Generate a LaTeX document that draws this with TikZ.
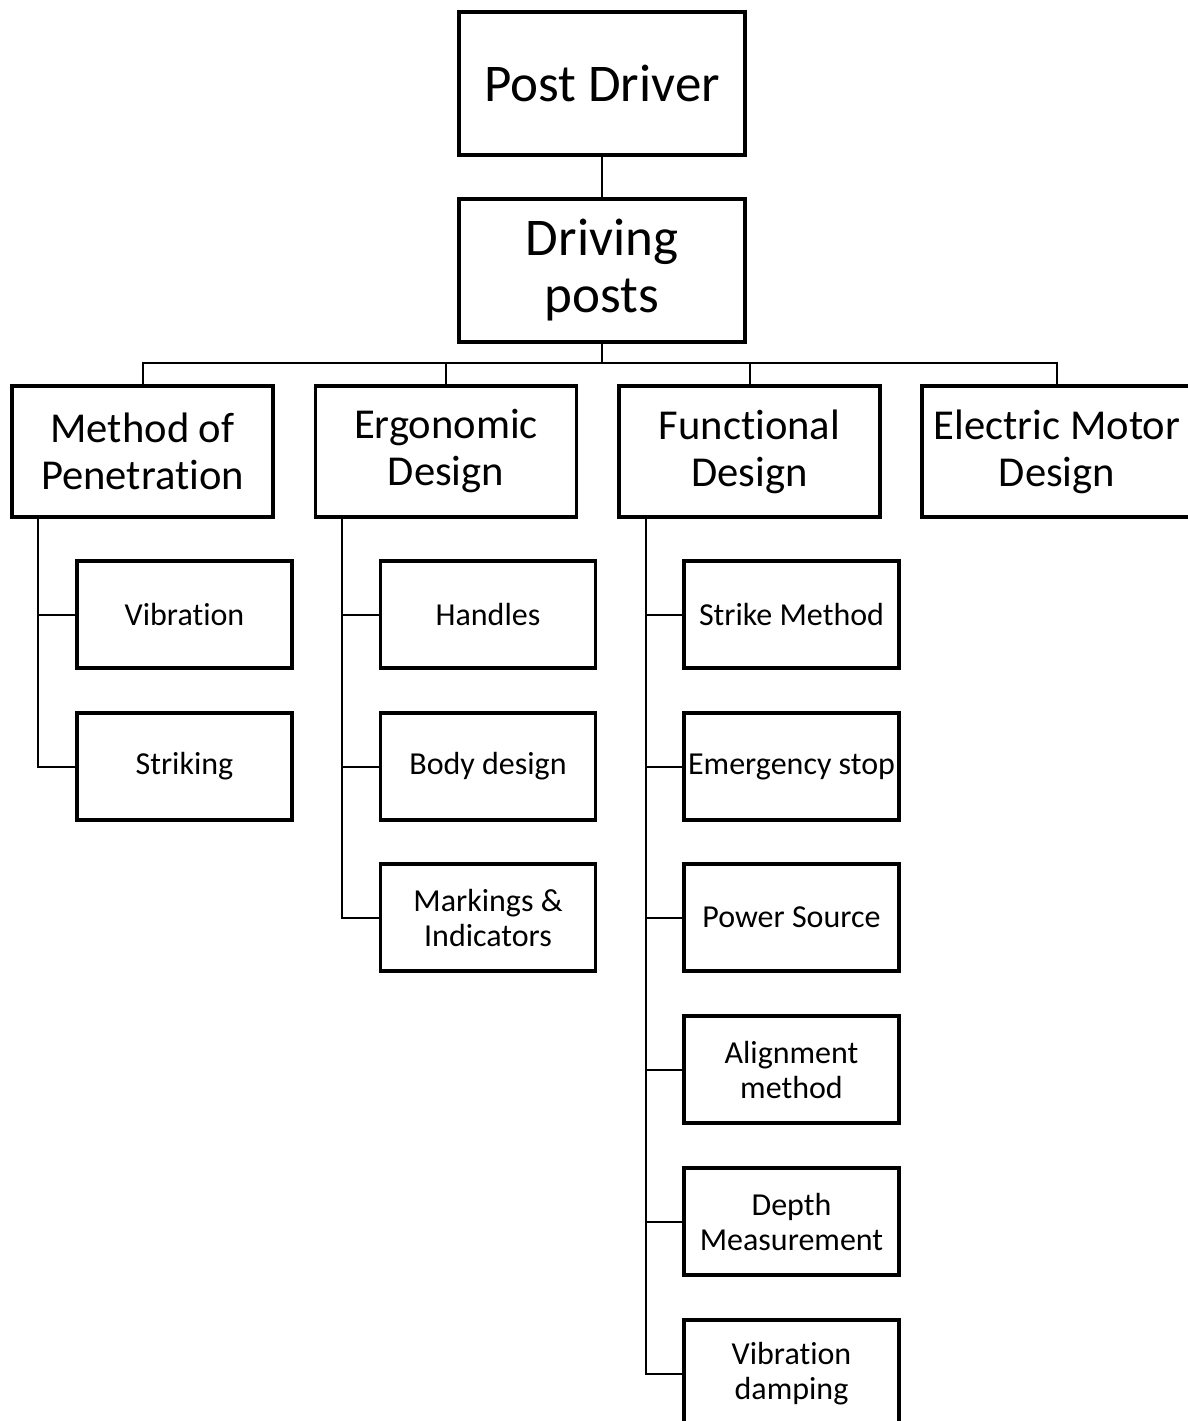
\documentclass[tikz,border=0pt]{standalone}
\usepackage{fontspec}
\setmainfont{Carlito}[Ligatures=NoCommon]
\begin{document}
\begin{tikzpicture}[x=1pt,y=-1pt,
  box/.style={draw, line width=3.6pt, rectangle, align=center, inner sep=0pt, fill=white},
  topbox/.style={box, minimum width=286pt, minimum height=143pt, font=\fontsize{53}{57}\selectfont},
  catbox/.style={box, minimum width=261pt, minimum height=131pt, font=\fontsize{42.6}{47}\selectfont},
  subbox/.style={box, minimum width=215pt, minimum height=107pt, font=\fontsize{32}{35}\selectfont},
  link/.style={line width=2pt}]
\clip (0,0) rectangle (1188,1421);
\fill[white] (0,0) rectangle (1188,1421);

% root and main task
\node[topbox] (pd) at (602,83.5) {Post Driver};
\node[topbox] (dp) at (602,270.5) {Driving\\posts};

% categories
\node[catbox] (mp) at (142.5,451.5) {Method of\\Penetration};
\node[catbox] (ed) at (446,451.5) {Ergonomic\\Design};
\node[catbox] (fd) at (749.5,451.5) {Functional\\Design};
\node[catbox, minimum width=270pt] (em) at (1057,451.5) {Electric Motor\\Design};

% method of penetration items
\node[subbox] (vib) at (184.5,614.5) {Vibration};
\node[subbox] (str) at (184.5,766.5) {Striking};

% ergonomic design items
\node[subbox] (han) at (488,614.5) {Handles};
\node[subbox] (bod) at (488,766.5) {Body design};
\node[subbox] (mar) at (488,917.5) {Markings \&\\Indicators};

% functional design items
\node[subbox] (sm) at (791.5,614.5) {Strike Method};
\node[subbox] (es) at (791.5,766.5) {Emergency stop};
\node[subbox] (ps) at (791.5,917.5) {Power Source};
\node[subbox] (al) at (791.5,1069.5) {Alignment\\method};
\node[subbox] (dm) at (791.5,1221.5) {Depth\\Measurement};
\node[subbox] (vd) at (791.5,1373.5) {Vibration\\damping};

% connectors
\coordinate (bus) at (602,363);
\draw[link] (pd.south) -- (dp.north);
\draw[link] (dp.south) -- (bus);
\draw[link] (mp.north) |- (bus);
\draw[link] (ed.north) |- (bus);
\draw[link] (fd.north) |- (bus);
\draw[link] (em.north) |- (bus);

\coordinate (mt) at (38,517);
\coordinate (et) at (342,517);
\coordinate (ft) at (646,517);
\draw[link] (mt) |- (vib.west);
\draw[link] (mt) |- (str.west);
\draw[link] (et) |- (han.west);
\draw[link] (et) |- (bod.west);
\draw[link] (et) |- (mar.west);
\draw[link] (ft) |- (sm.west);
\draw[link] (ft) |- (es.west);
\draw[link] (ft) |- (ps.west);
\draw[link] (ft) |- (al.west);
\draw[link] (ft) |- (dm.west);
\draw[link] (ft) |- (vd.west);
\end{tikzpicture}
\end{document}
